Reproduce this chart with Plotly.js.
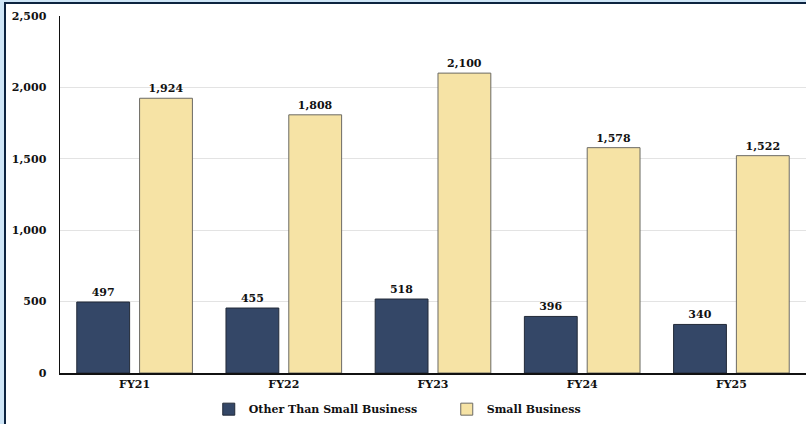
<!DOCTYPE html>
<html>
<head>
<meta charset="utf-8">
<script src="https://cdn.plot.ly/plotly-3.0.1.min.js"></script>
<style>
html,body{margin:0;padding:0;background:#fff;}
#wrap{position:relative;width:806px;height:424px;overflow:hidden;}
#chart{position:absolute;left:0;top:0;width:806px;height:424px;}
.b{position:absolute;pointer-events:none;}
</style>
</head>
<body>
<div id="wrap">
<div id="chart"></div>
<div class="b" style="left:0;top:0;width:806px;height:2px;background:#cfe6f7;"></div>
<div class="b" style="left:0;top:0;width:4px;height:424px;background:#cfe6f7;"></div>
<div class="b" style="left:4px;top:2px;width:802px;height:2px;background:#0d2440;"></div>
<div class="b" style="left:4px;top:2px;width:2px;height:422px;background:#0d2440;"></div>
</div>
<script>
const categories = ["FY21", "FY22", "FY23", "FY24", "FY25"];
const otherThanSmall = [497, 455, 518, 396, 340];
const smallBusiness = [1924, 1808, 2100, 1578, 1522];
const seriesNames = ["Other Than Small Business", "Small Business"];
const yTicks = [0, 500, 1000, 1500, 2000, 2500];

const boldFont = {family: "DejaVu Serif", size: 11, color: "#111", weight: "bold"};

const traces = [
  {
    type: "bar", name: seriesNames[0], x: categories, y: otherThanSmall,
    marker: {color: "#344767", line: {color: "#222a38", width: 1}},
    texttemplate: "%{y:,}", textposition: "outside",
    textfont: boldFont, cliponaxis: false
  },
  {
    type: "bar", name: seriesNames[1], x: categories, y: smallBusiness,
    marker: {color: "#f6e3a5", line: {color: "#6b6a64", width: 1}},
    texttemplate: "%{y:,}", textposition: "outside",
    textfont: boldFont, cliponaxis: false
  }
];

const layout = {
  width: 806, height: 424,
  margin: {l: 60, r: 0, t: 16, b: 51},
  paper_bgcolor: "#ffffff", plot_bgcolor: "#ffffff",
  barmode: "group", bargap: 0.158, bargroupgap: 0.159,
  showlegend: true,
  legend: {
    orientation: "h", xref: "container", yref: "container",
    x: 0.259, xanchor: "left", y: 0.035, yanchor: "middle",
    font: boldFont, entrywidth: 193, entrywidthmode: "pixels",
    traceorder: "normal", bgcolor: "rgba(0,0,0,0)"
  },
  font: boldFont,
  xaxis: {
    type: "category", showline: true, linecolor: "#111", linewidth: 1.5,
    ticks: "", showgrid: false, zeroline: false,
    tickfont: boldFont
  },
  yaxis: {
    range: [0, 2500], tickvals: yTicks, tickformat: ",",
    showline: true, linecolor: "#111", linewidth: 1.5,
    gridcolor: "#e3e3e3", gridwidth: 1, zeroline: false, ticks: "",
    ticklabelstandoff: 10,
    tickfont: boldFont
  }
};

Plotly.newPlot("chart", traces, layout, {displayModeBar: false, staticPlot: true});
</script>
</body>
</html>
